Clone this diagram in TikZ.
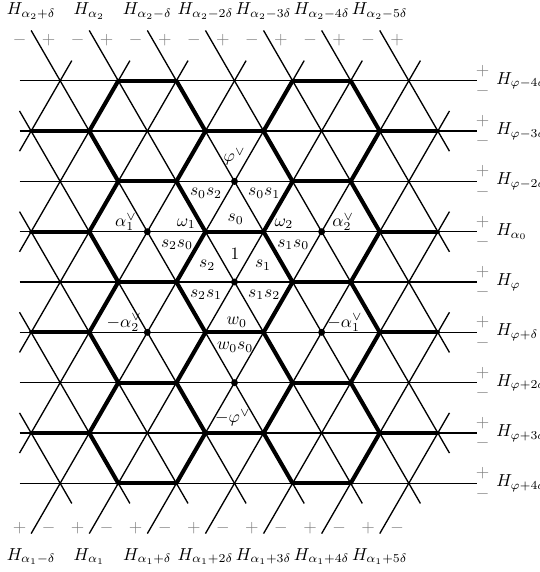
\documentclass[tikz,border=0pt]{standalone}
\begin{document}
\begin{tikzpicture}[x=1cm,y=1cm,
  thinline/.style={line width=0.65pt},
  thickline/.style={line width=2pt, line cap=round},
  sgn/.style={text=black!50, scale=0.85, inner sep=0pt},
  lbl/.style={scale=0.85, inner sep=0pt},
  cdot/.style={circle, fill=black, inner sep=0pt, minimum size=3.4pt}]
\def\s{0.866025}
\useasboundingbox (-4.036,-4.991) rectangle (5.241,4.854);

% horizontal lines H_phi family
\foreach \j in {-4,...,4}
  \draw[thinline] (-3.7,\j*\s) coordinate (hl\j) -- (4.17,\j*\s) coordinate (hr\j);

% lines of direction "\" (family H_{alpha_2})
\foreach \xa/\ya/\xb/\yb [count=\i] in {
  -3.7/-2.252/-2.8/-3.811, -3.7/-0.520/-1.8/-3.811, -3.7/1.212/-0.8/-3.811,
  -3.7/2.944/0.2/-3.811, -3.5/4.330/1.2/-3.811, -2.5/4.330/2.2/-3.811,
  -1.5/4.330/3.2/-3.811, -0.5/4.330/3.7/-2.944, 0.5/4.330/3.7/-1.212,
  1.5/4.330/3.7/0.520, 2.5/4.330/3.7/2.252}
  \draw[thinline] (\xa,\ya) coordinate (ba\i) -- (\xb,\yb) coordinate (bb\i);

% lines of direction "/" (family H_{alpha_1})
\foreach \xa/\ya/\xb/\yb [count=\i] in {
  -3.7/2.252/-2.8/3.811, -3.7/0.520/-1.8/3.811, -3.7/-1.212/-0.8/3.811,
  -3.7/-2.944/0.2/3.811, -3.5/-4.330/1.2/3.811, -2.5/-4.330/2.2/3.811,
  -1.5/-4.330/3.2/3.811, -0.5/-4.330/3.7/2.944, 0.5/-4.330/3.7/1.212,
  1.5/-4.330/3.7/-0.520, 2.5/-4.330/3.7/-2.252}
  \draw[thinline] (\xa,\ya) coordinate (sa\i) -- (\xb,\yb) coordinate (sb\i);

% thick honeycomb edges (edges avoiding the coroot lattice)
\foreach \j in {-4,...,4}{
 \foreach \k in {-7,...,7}{
  \pgfmathtruncatemacro\pa{mod(\k+\j+20,2)}
  \ifnum\pa=0
   \pgfmathtruncatemacro\ca{mod((\k-3*\j)/2+30,3)}
   \ifnum\ca>0
     \ifnum\k<6
       \pgfmathtruncatemacro\cb{mod((\k+2-3*\j)/2+30,3)}
       \ifnum\cb>0 \draw[thickline] (\k/2,\j*\s) -- (\k/2+1,\j*\s); \fi
     \fi
     \ifnum\j<4
       \ifnum\k<7
         \pgfmathtruncatemacro\cb{mod((\k+1-3*(\j+1))/2+30,3)}
         \ifnum\cb>0 \draw[thickline] (\k/2,\j*\s) -- (\k/2+0.5,\j*\s+\s); \fi
       \fi
       \ifnum\k>-7
         \pgfmathtruncatemacro\cb{mod((\k-1-3*(\j+1))/2+30,3)}
         \ifnum\cb>0 \draw[thickline] (\k/2,\j*\s) -- (\k/2-0.5,\j*\s+\s); \fi
       \fi
     \fi
   \fi
  \fi
 }
}

% coroot lattice dots
\foreach \px/\py [count=\i] in {0/0, -1.5/\s, 1.5/\s, 0/2*\s, -1.5/-\s, 1.5/-\s, 0/-2*\s}
  \node[cdot] (d\i) at (\px,\py) {};

% right labels and signs
\foreach \j/\t in {4/{\varphi-4\delta}, 3/{\varphi-3\delta}, 2/{\varphi-2\delta}, 1/{\alpha_0},
  0/{\varphi}, -1/{\varphi+\delta}, -2/{\varphi+2\delta}, -3/{\varphi+3\delta}, -4/{\varphi+4\delta}}{
  \node[sgn] (rp\j) at (4.27,\j*\s+0.17) {$+$};
  \node[sgn] (rm\j) at (4.27,\j*\s-0.18) {$-$};
  \node[lbl, anchor=west] (rl\j) at (4.5,\j*\s) {$H_{\t}$};
}

% top labels and signs
\foreach \xt/\t [count=\i] in {-3.5/{\alpha_2+\delta}, -2.5/{\alpha_2}, -1.5/{\alpha_2-\delta},
  -0.5/{\alpha_2-2\delta}, 0.5/{\alpha_2-3\delta}, 1.5/{\alpha_2-4\delta}, 2.5/{\alpha_2-5\delta}}{
  \node[sgn] (tm\i) at (\xt-0.2,4.165) {$-$};
  \node[sgn] (tp\i) at (\xt+0.3,4.165) {$+$};
  \node[lbl, anchor=base] (tl\i) at (\xt,4.60) {$H_{\t}$};
}

% bottom labels and signs
\foreach \xt/\t [count=\i] in {-3.5/{\alpha_1-\delta}, -2.5/{\alpha_1}, -1.5/{\alpha_1+\delta},
  -0.5/{\alpha_1+2\delta}, 0.5/{\alpha_1+3\delta}, 1.5/{\alpha_1+4\delta}, 2.5/{\alpha_1+5\delta}}{
  \node[sgn] (bp\i) at (\xt-0.2,-4.23) {$+$};
  \node[sgn] (bm\i) at (\xt+0.3,-4.23) {$-$};
  \node[lbl, anchor=base] (bl\i) at (\xt,-4.785) {$H_{\t}$};
}

% interior labels
\node[lbl] (one) at (0.01,0.48) {$1$};
\node[lbl] (s0) at (0.02,1.08) {$s_0$};
\node[lbl] (s2) at (-0.47,0.29) {$s_2$};
\node[lbl] (s1) at (0.49,0.29) {$s_1$};
\node[lbl] (s0s2) at (-0.49,1.53) {$s_0s_2$};
\node[lbl] (s0s1) at (0.51,1.53) {$s_0s_1$};
\node[lbl] (s2s0) at (-0.99,0.64) {$s_2s_0$};
\node[lbl] (s1s0) at (1.01,0.64) {$s_1s_0$};
\node[lbl] (s2s1) at (-0.49,-0.22) {$s_2s_1$};
\node[lbl] (s1s2) at (0.51,-0.22) {$s_1s_2$};
\node[lbl] (om1) at (-0.83,1.0) {$\omega_1$};
\node[lbl] (om2) at (0.85,1.0) {$\omega_2$};
\node[lbl] (a1) at (-1.87,1.03) {$\alpha_1^\vee$};
\node[lbl] (a2) at (1.87,1.03) {$\alpha_2^\vee$};
\node[lbl] (phi) at (0,2.15) {$\varphi^\vee$};
\node[lbl] (ma2) at (-1.9,-0.70) {$-\alpha_2^\vee$};
\node[lbl] (ma1) at (1.9,-0.70) {$-\alpha_1^\vee$};
\node[lbl] (w0) at (0.04,-0.69) {$w_0$};
\node[lbl] (w0s0) at (0.01,-1.12) {$w_0s_0$};
\node[lbl] (mphi) at (-0.03,-2.34) {$-\varphi^\vee$};
\end{tikzpicture}
\end{document}
